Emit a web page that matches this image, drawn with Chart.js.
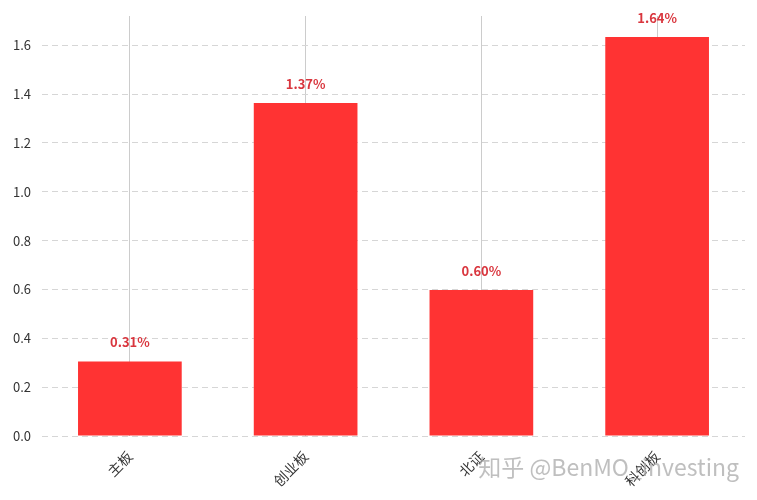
<!DOCTYPE html>
<html><head><meta charset="utf-8">
<script src="https://cdn.jsdelivr.net/npm/chart.js@4.4.0/dist/chart.umd.min.js"></script>
<style>html,body{margin:0;padding:0;background:#fff}#wrap{width:757px;height:500px}</style>
</head><body><div id="wrap"><canvas id="c"></canvas></div>
<script>
const categories = ['主板', '创业板', '北证', '科创板'];
const values = [0.305, 1.364, 0.598, 1.634];
const valueLabels = ['0.31%', '1.37%', '0.60%', '1.64%'];
const yTicks = [0.0, 0.2, 0.4, 0.6, 0.8, 1.0, 1.2, 1.4, 1.6];

const FONT = '"Noto Sans CJK SC", "Noto Sans", sans-serif';

const labelPlugin = {
  id: 'vlabels',
  afterDatasetsDraw(chart) {
    const ctx = chart.ctx;
    const meta = chart.getDatasetMeta(0);
    ctx.save();
    ctx.font = 'bold 13px ' + FONT;
    ctx.fillStyle = '#d9363e';
    ctx.textAlign = 'center';
    ctx.textBaseline = 'middle';
    meta.data.forEach((bar, i) => {
      ctx.fillText(valueLabels[i], bar.x, bar.y - 19);
    });
    ctx.restore();
  },
  afterDraw(chart) {
    const ctx = chart.ctx;
    ctx.save();
    ctx.font = '23px ' + FONT;
    ctx.fillStyle = 'rgba(170,170,170,0.75)';
    ctx.textAlign = 'right';
    ctx.textBaseline = 'middle';
    ctx.fillText('知乎 @BenMO_investing', 739, 467);
    ctx.restore();
  }
};

new Chart(document.getElementById('c'), {
  type: 'bar',
  data: {
    labels: categories,
    datasets: [{
      data: values,
      backgroundColor: '#ff3333',
      borderWidth: 0,
      barPercentage: 0.59,
      categoryPercentage: 1.0
    }]
  },
  options: {
    responsive: true,
    maintainAspectRatio: false,
    animation: false,
    devicePixelRatio: 1,
    layout: { padding: { top: 16, right: 12, left: 0, bottom: 0 } },
    plugins: { legend: { display: false }, tooltip: { enabled: false } },
    scales: {
      x: {
        offset: true,
        grid: { offset: false, color: '#cccccc', lineWidth: 1, drawTicks: false },
        border: { display: false },
        ticks: {
          font: { family: FONT, size: 14 },
          color: '#333333',
          maxRotation: 45, minRotation: 45,
          padding: 12
        },
        afterFit(scale) { scale.height = 64; scale.paddingLeft = 0; scale.paddingRight = 0; }
      },
      y: {
        min: 0, max: 1.72,
        afterBuildTicks(scale) { scale.ticks = yTicks.map(v => ({ value: v })); },
        grid: { color: '#d6d6d6', lineWidth: 1, drawTicks: false },
        border: { display: false, dash: [6, 4] },
        ticks: {
          font: { family: FONT, size: 13 },
          color: '#333333',
          padding: 11,
          callback: v => Number(v).toFixed(1)
        },
        afterFit(scale) { scale.width = 42; scale.paddingTop = 0; scale.paddingBottom = 0; }
      }
    }
  },
  plugins: [labelPlugin]
});
</script></body></html>
